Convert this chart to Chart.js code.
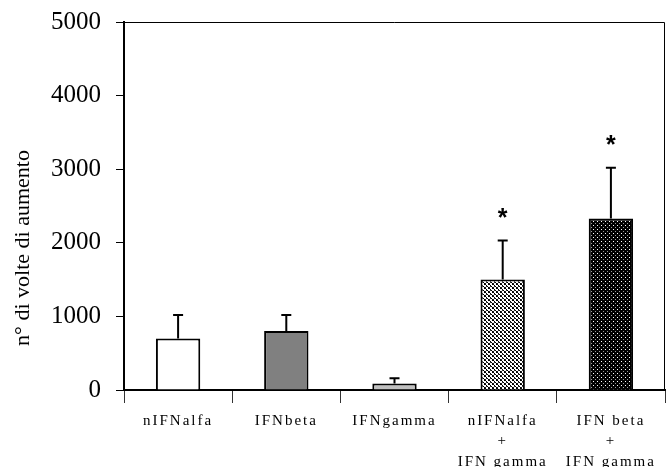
<!DOCTYPE html>
<html><head><meta charset="utf-8">
<script src="https://cdn.jsdelivr.net/npm/chart.js@4"></script>
<style>html,body{margin:0;padding:0;background:#fff}</style>
</head><body><canvas id="c" width="670" height="467"></canvas>
<script>
const categories = [["nIFNalfa"], ["IFNbeta"], ["IFNgamma"], ["nIFNalfa", "+", "IFN gamma"], ["IFN beta", "+", "IFN gamma"]];
const values = [700, 800, 90, 1500, 2330];
const errorsUpper = [320, 220, 70, 530, 690];
const significant = [false, false, false, true, true];
const yTicks = [0, 1000, 2000, 3000, 4000, 5000];
const yTitle = "n° di volte di aumento";

function makePattern(bg, pts, size) {
  const c = document.createElement('canvas');
  c.width = c.height = size;
  const g = c.getContext('2d');
  g.fillStyle = bg; g.fillRect(0, 0, size, size);
  pts.forEach(p => { g.fillStyle = p[2]; g.fillRect(p[0], p[1], 1, 1); });
  return document.getElementById('c').getContext('2d').createPattern(c, 'repeat');
}
const lightDots = makePattern('#fff', [[0,0,'#000'],[1,0,'#000'],[2,1,'#000'],[3,2,'#000'],[2,2,'#333'],[0,3,'#000'],[1,3,'#222']], 4);
const darkDots = makePattern('#000', [[1,1,'#fff'],[3,3,'#999']], 4);
const fills = ['#ffffff', '#808080', '#c0c0c0', lightDots, darkDots];

const extras = {
  id: 'extras',
  afterDatasetsDraw(chart) {
    const ctx = chart.ctx, y = chart.scales.y, meta = chart.getDatasetMeta(0);
    ctx.save();
    ctx.strokeStyle = '#000'; ctx.lineWidth = 2;
    meta.data.forEach((bar, i) => {
      const top = y.getPixelForValue(values[i] + errorsUpper[i]);
      ctx.beginPath();
      ctx.moveTo(bar.x, bar.y); ctx.lineTo(bar.x, top);
      ctx.moveTo(bar.x - 5, top); ctx.lineTo(bar.x + 5, top);
      ctx.stroke();
      if (significant[i]) {
        ctx.fillStyle = '#000';
        ctx.font = 'bold 25px "Liberation Sans"';
        ctx.textAlign = 'center'; ctx.textBaseline = 'alphabetic';
        ctx.fillText('*', bar.x, top - 15);
      }
    });
    const a = chart.chartArea;
    ctx.lineWidth = 1; ctx.strokeStyle = '#000';
    ctx.beginPath();
    ctx.moveTo(a.left, a.top + 0.5); ctx.lineTo(a.right - 0.5, a.top + 0.5); ctx.lineTo(a.right - 0.5, a.bottom);
    ctx.stroke();
    ctx.translate(23, 248); ctx.rotate(-Math.PI / 2);
    ctx.fillStyle = '#000';
    ctx.font = '22px "Liberation Serif"';
    ctx.textAlign = 'center'; ctx.textBaseline = 'middle';
    ctx.fillText(yTitle, 0, 0);
    ctx.restore();
    ctx.letterSpacing = '2px';
  },
  afterDraw(chart) { chart.ctx.letterSpacing = '0px'; }
};

new Chart(document.getElementById('c'), {
  type: 'bar',
  data: {
    labels: categories,
    datasets: [{
      data: values,
      backgroundColor: fills,
      borderColor: '#000',
      borderWidth: 2,
      categoryPercentage: 1,
      barPercentage: 0.41
    }]
  },
  options: {
    responsive: false,
    animation: false,
    layout: { padding: { top: 22, right: 5, left: 0, bottom: 0 } },
    plugins: { legend: { display: false }, tooltip: { enabled: false } },
    scales: {
      x: {
        grid: { offset: true, drawOnChartArea: false, color: '#333', lineWidth: 1, tickLength: 13 },
        border: { color: '#000', width: 2 },
        ticks: { color: '#000', font: { family: '"Liberation Serif"', size: 15, lineHeight: 1.35 }, padding: 8, maxRotation: 0, autoSkip: false, z: 1 },
        afterFit(s) { s.height = 77; s.paddingLeft = 0; s.paddingRight = 0; }
      },
      y: {
        min: 0, max: 5000,
        grid: { drawOnChartArea: false, color: '#000', tickLength: 8 },
        border: { color: '#000', width: 2 },
        ticks: { color: '#000', font: { family: '"Liberation Serif"', size: 25 }, padding: 15, callback: v => String(v) },
        afterBuildTicks(s) { s.ticks = yTicks.map(v => ({ value: v })); },
        afterFit(s) { s.width = 124; s.paddingTop = 0; s.paddingBottom = 0; }
      }
    }
  },
  plugins: [extras]
});
</script>
</body></html>
